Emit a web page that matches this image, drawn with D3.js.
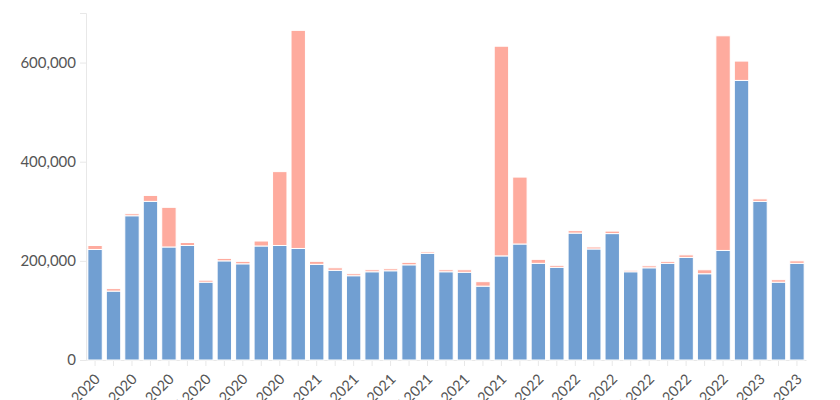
<!DOCTYPE html>
<html>
<head>
<meta charset="utf-8">
<script src="https://cdn.jsdelivr.net/npm/d3@7"></script>
<style>
  body { margin: 0; background: #fff; }
</style>
</head>
<body>
<div id="wrapper"></div>
<script>
// months Jan 2020 - Mar 2023
const months = [
    "Jan 2020", "Feb 2020", "Mar 2020", "Apr 2020", "May 2020", "Jun 2020",
    "Jul 2020", "Aug 2020", "Sep 2020", "Oct 2020", "Nov 2020", "Dec 2020",
    "Jan 2021", "Feb 2021", "Mar 2021", "Apr 2021", "May 2021", "Jun 2021",
    "Jul 2021", "Aug 2021", "Sep 2021", "Oct 2021", "Nov 2021", "Dec 2021",
    "Jan 2022", "Feb 2022", "Mar 2022", "Apr 2022", "May 2022", "Jun 2022",
    "Jul 2022", "Aug 2022", "Sep 2022", "Oct 2022", "Nov 2022", "Dec 2022",
    "Jan 2023", "Feb 2023", "Mar 2023",
]
const baseValues = [
    223000, 139000, 291000, 320000, 228000, 231000, 157000, 200000, 194000, 230000, 231000, 225000,
    193000, 181000, 170000, 178000, 180000, 192000, 215000, 178000, 177000, 149000, 210000, 234000,
    195000, 187000, 256000, 224000, 255000, 178000, 186000, 195000, 207000, 174000, 221000, 564000,
    320000, 157000, 195000,
]
const extraValues = [
    8000, 5000, 4000, 12000, 80000, 6000, 4000, 5000, 5000, 10000, 149000, 440000,
    6000, 5000, 4000, 4000, 4000, 5000, 3000, 4000, 5000, 9000, 423000, 135000,
    8000, 4000, 5000, 4000, 5000, 3000, 4000, 4000, 5000, 8000, 433000, 39000,
    5000, 5000, 5000,
]
const yTicks = [0, 200000, 400000, 600000]

const colors = { base: "#719fd2", extra: "#feab9e" }
const fontFamily = "Lato, 'Open Sans', sans-serif"

const dimensions = {
    width: 840,
    height: 400,
    margin: { top: 13, right: 34, bottom: 40, left: 86 },
}
dimensions.boundedWidth = dimensions.width - dimensions.margin.left - dimensions.margin.right
dimensions.boundedHeight = dimensions.height - dimensions.margin.top - dimensions.margin.bottom

const dataset = months.map((m, i) => ({ month: m, base: baseValues[i], extra: extraValues[i] }))
const series = d3.stack().keys(["base", "extra"])(dataset)

const wrapper = d3.select("#wrapper")
    .append("svg")
    .attr("width", dimensions.width)
    .attr("height", dimensions.height)

const bounds = wrapper.append("g")
    .attr("transform", `translate(${dimensions.margin.left},${dimensions.margin.top})`)

const xScale = d3.scaleBand()
    .domain(months)
    .range([0, dimensions.boundedWidth])
    .paddingInner(0.22)
    .paddingOuter(0.1)

const yScale = d3.scaleLinear()
    .domain([0, 700000])
    .range([dimensions.boundedHeight, 0])

// y axis
const yAxis = bounds.append("g")
    .call(d3.axisLeft(yScale).tickValues(yTicks).tickSize(6).tickPadding(4).tickFormat(d3.format(",")))
    .attr("font-family", fontFamily)
yAxis.select(".domain").attr("stroke", "#e8e8e8")
yAxis.selectAll(".tick line").attr("stroke", "#e8e8e8")
yAxis.selectAll(".tick text")
    .attr("fill", "#555")
    .style("font-size", "15px")

// x axis
const xAxis = bounds.append("g")
    .attr("transform", `translate(0,${dimensions.boundedHeight})`)
    .call(d3.axisBottom(xScale).tickSize(6).tickSizeOuter(0)
        .tickFormat((d, i) => i % 2 === 0 ? d : ""))
    .attr("font-family", fontFamily)
xAxis.select(".domain").attr("stroke", "#e8e8e8")
xAxis.selectAll(".tick line").attr("stroke", "#e8e8e8")
xAxis.selectAll(".tick text")
    .attr("fill", "#555")
    .style("font-size", "14.5px")
    .attr("x", 0)
    .attr("y", 0)
    .attr("dy", 0)
    .attr("text-anchor", "end")
    .attr("transform", "translate(6,20) rotate(-45)")

// stacked bars
bounds.append("g")
    .selectAll("g")
    .data(series)
    .join("g")
    .attr("fill", d => colors[d.key])
    .selectAll("rect")
    .data(d => d)
    .join("rect")
    .attr("x", d => xScale(d.data.month))
    .attr("width", xScale.bandwidth())
    .attr("y", d => yScale(d[1]))
    .attr("height", d => yScale(d[0]) - yScale(d[1]))
    .attr("stroke", "#fff")
    .attr("stroke-width", 1)
</script>
</body>
</html>
